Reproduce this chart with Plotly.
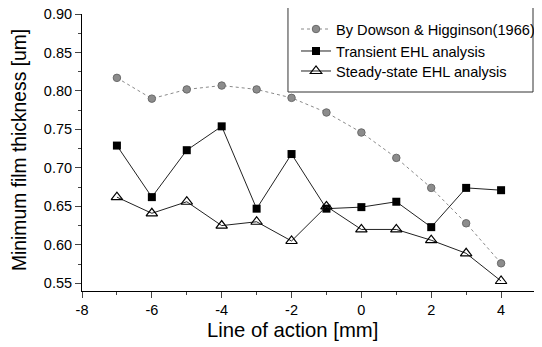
import plotly.graph_objects as go

x = [-7, -6, -5, -4, -3, -2, -1, 0, 1, 2, 3, 4]
dowson = [0.817, 0.790, 0.802, 0.807, 0.802, 0.791, 0.772, 0.746, 0.713, 0.674, 0.628, 0.576]
transient = [0.729, 0.662, 0.723, 0.754, 0.647, 0.718, 0.647, 0.649, 0.656, 0.623, 0.674, 0.671]
steady = [0.662, 0.641, 0.656, 0.625, 0.630, 0.605, 0.650, 0.620, 0.620, 0.606, 0.589, 0.553]
names = ["By Dowson & Higginson(1966)", "Transient EHL analysis", "Steady-state EHL analysis"]
xticks = [-8, -6, -4, -2, 0, 2, 4]
xticklabels = ["-8", "-6", "-4", "-2", "0", "2", "4"]
yticks = [0.55, 0.60, 0.65, 0.70, 0.75, 0.80, 0.85, 0.90]
yticklabels = ["0.55", "0.60", "0.65", "0.70", "0.75", "0.80", "0.85", "0.90"]
xtitle = "Line of action [mm]"
ytitle = "Minimum film thickness [um]"

font = "Liberation Sans, Arial, sans-serif"
fig = go.Figure()
fig.add_trace(go.Scatter(x=x, y=dowson, name=names[0], mode="lines+markers", legend="legend",
                         line=dict(color="#8a8a8a", width=1, dash="dot"),
                         marker=dict(symbol="circle", size=7.5, color="#8c8c8c",
                                     line=dict(color="#6a6a6a", width=1))))
fig.add_trace(go.Scatter(x=x, y=transient, name=names[1], mode="lines+markers", legend="legend2",
                         line=dict(color="#222222", width=1),
                         marker=dict(symbol="square", size=8, color="black")))
fig.add_trace(go.Scatter(x=x, y=steady, name=names[2], mode="lines+markers", legend="legend3",
                         line=dict(color="#222222", width=1),
                         marker=dict(symbol="triangle-up-open", size=10, color="black",
                                     line=dict(width=1.2))))

leg_common = dict(x=0.4714, xanchor="left", yanchor="middle", borderwidth=0,
                  bgcolor="rgba(0,0,0,0)", font=dict(size=14.6), itemwidth=30)

# the page body has an 8px default margin, so the figure is sized/offset to compensate
fig.update_layout(
    width=534, height=339,
    margin=dict(l=74, r=6, t=6, b=56, autoexpand=False),
    paper_bgcolor="white", plot_bgcolor="white",
    font=dict(family=font, color="black", size=14),
    showlegend=True,
    legend=dict(y=0.9458, **leg_common),
    legend2=dict(y=0.8664, **leg_common),
    legend3=dict(y=0.7942, **leg_common),
    xaxis=dict(range=[-8, 5], tickvals=xticks, ticktext=xticklabels, ticks="outside", ticklen=6,
               showgrid=False, zeroline=False, showline=True, linecolor="black",
               linewidth=1, tickfont=dict(size=14.5), automargin=False,
               ticklabeloverflow="allow",
               minor=dict(dtick=1, tick0=-8, ticks="outside", ticklen=3, showgrid=False)),
    yaxis=dict(range=[0.54, 0.90], tickvals=yticks, ticktext=yticklabels, ticks="outside",
               ticklen=6, showgrid=False, zeroline=False, showline=True,
               linecolor="black", linewidth=1, tickfont=dict(size=14.5), automargin=False,
               ticklabeloverflow="allow",
               minor=dict(dtick=0.025, tick0=0.55, ticks="outside", ticklen=3, showgrid=False)),
    shapes=[dict(type="rect", xref="paper", yref="paper", x0=0.4537, x1=0.9934,
                 y0=0.7184, y1=1.0289, line=dict(color="#333333", width=1),
                 fillcolor="white", layer="below")],
    annotations=[
        dict(text=xtitle, xref="paper", yref="paper", x=0.4626, y=-0.1408,
             xanchor="center", yanchor="middle", showarrow=False, font=dict(size=20.3)),
        dict(text=ytitle, xref="paper", yref="paper", x=-0.1388, y=0.509,
             xanchor="center", yanchor="middle", textangle=-90, showarrow=False,
             font=dict(size=19.3)),
    ],
)
fig.write_html("out.html")
